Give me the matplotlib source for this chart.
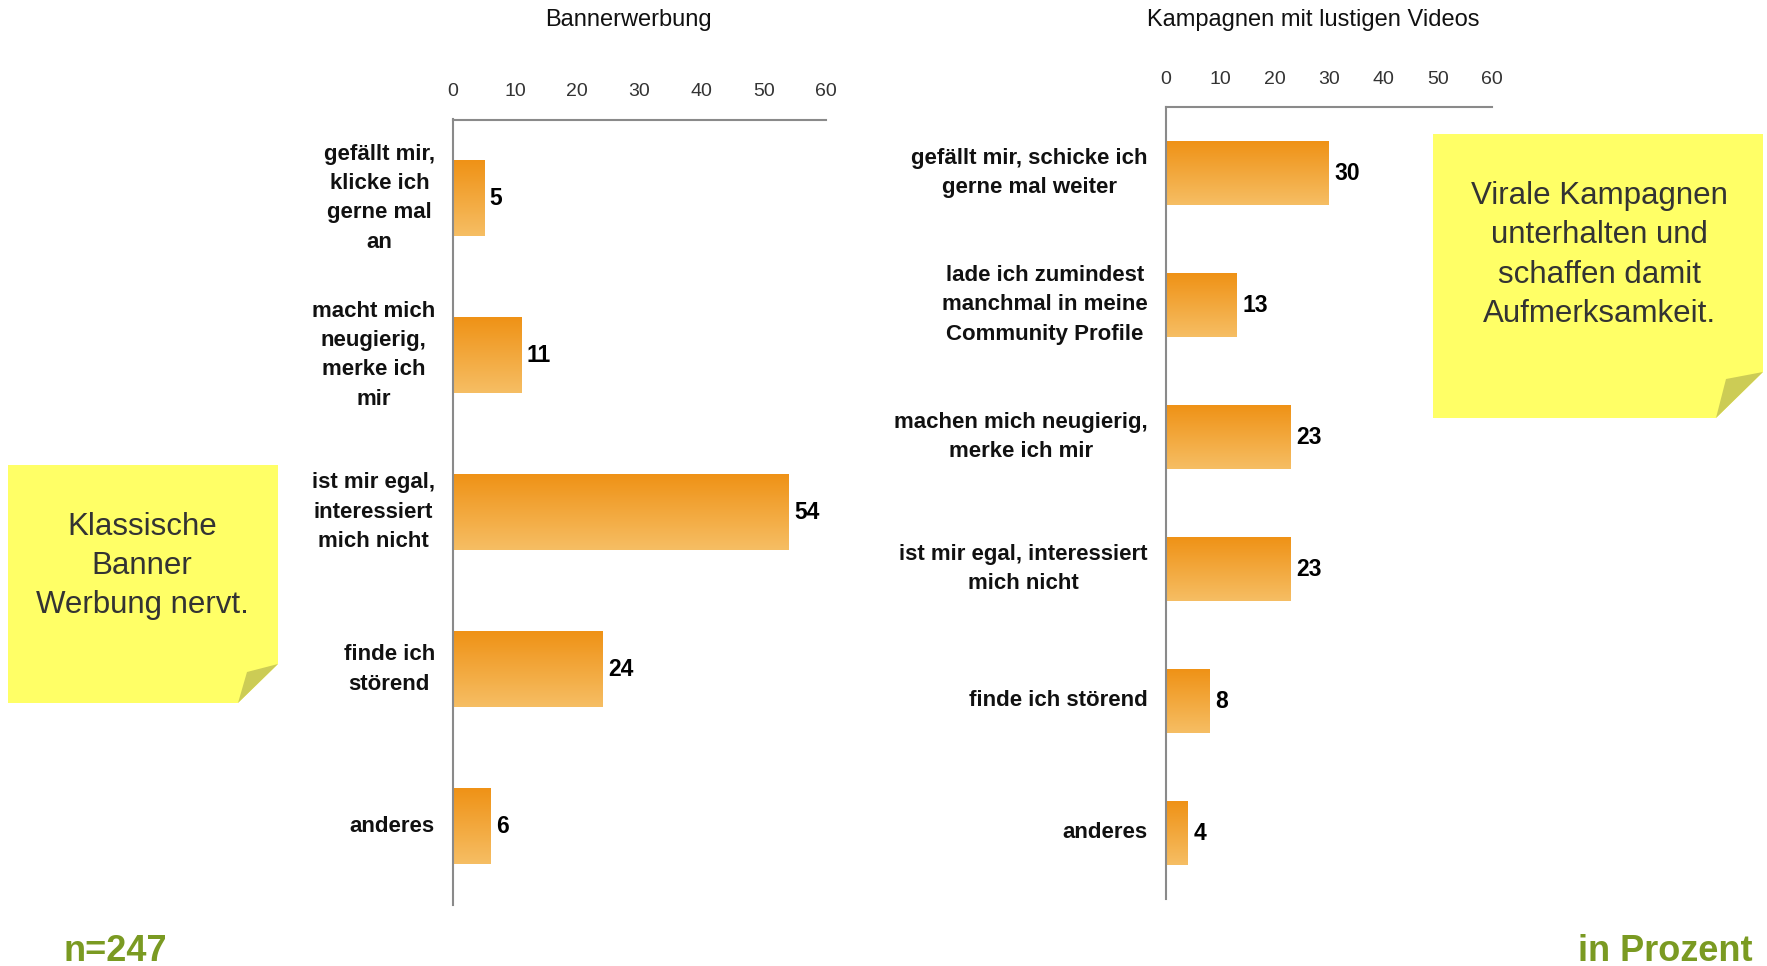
import numpy as np
import matplotlib.pyplot as plt
from matplotlib.patches import Polygon

plt.rcParams['font.family'] = ['Liberation Sans', 'DejaVu Sans']

# data
banner_labels = ["gefällt mir,\nklicke ich\ngerne mal\nan",
                 "macht mich\nneugierig,\nmerke ich\nmir",
                 "ist mir egal,\ninteressiert\nmich nicht",
                 "finde ich\nstörend",
                 "anderes"]
banner_values = [5, 11, 54, 24, 6]

video_labels = ["gefällt mir, schicke ich\ngerne mal weiter",
                "lade ich zumindest\nmanchmal in meine\nCommunity Profile",
                "machen mich neugierig,\nmerke ich mir",
                "ist mir egal, interessiert\nmich nicht",
                "finde ich störend",
                "anderes"]
video_values = [30, 13, 23, 23, 8, 4]

x_ticks = [0, 10, 20, 30, 40, 50, 60]

W, H = 1767, 966
fig = plt.figure(figsize=(W / 100, H / 100), dpi=100)

# vertical orange gradient for the bars
top_c = np.array([239, 146, 22]) / 255
bot_c = np.array([246, 190, 100]) / 255
t = np.linspace(0, 1, 256)[:, None, None]
grad = top_c + (bot_c - top_c) * t


def draw_chart(rect, labels, values):
    ax = fig.add_axes(rect)
    y = np.arange(len(values))
    bars = ax.barh(y, values, height=0.48, color='none', edgecolor='none')
    for b in bars:
        x0, y0 = b.get_x(), b.get_y()
        ax.imshow(grad, extent=(x0, x0 + b.get_width(), y0 + b.get_height(), y0),
                  aspect='auto', zorder=2)
    ax.bar_label(bars, padding=4, fontsize=16.5, fontweight='bold', color='black')
    ax.set_xlim(0, 60)
    ax.set_ylim(len(values) - 0.5, -0.5)
    ax.xaxis.tick_top()
    ax.set_xticks(x_ticks)
    ax.set_xticklabels([str(v) for v in x_ticks], fontsize=14, color='#333333')
    ax.set_yticks(y)
    ax.set_yticklabels(labels, fontsize=16, fontweight='bold', linespacing=1.52,
                       multialignment='center', color='#111111')
    for lab in ax.get_yticklabels():
        lab.set_verticalalignment('center')
    ax.tick_params(axis='x', length=0, pad=14)
    ax.tick_params(axis='y', length=0, pad=13)
    for s in ['right', 'bottom']:
        ax.spines[s].set_visible(False)
    for s in ['left', 'top']:
        ax.spines[s].set_color('#8a8a8a')
        ax.spines[s].set_linewidth(1.5)
    return ax


draw_chart([453 / W, 1 - 905 / H, 373 / W, (905 - 119.5) / H], banner_labels, banner_values)
draw_chart([1166 / W, 1 - 899 / H, 326 / W, (899 - 107) / H], video_labels, video_values)

# overlay in pixel coordinates for titles, notes and footer
ov = fig.add_axes([0, 0, 1, 1])
ov.set_xlim(0, W)
ov.set_ylim(H, 0)
ov.axis('off')

ov.text(628, 20, "Bannerwerbung", fontsize=17, ha='center', va='center', color='#111111')
ov.text(1313, 20, "Kampagnen mit lustigen Videos", fontsize=17, ha='center', va='center',
        color='#111111')

note_yellow = '#FFFF66'
fold_color = '#CCCC55'
ov.add_patch(Polygon([(8, 465), (278, 465), (278, 664), (238, 703), (8, 703)],
                     closed=True, facecolor=note_yellow, edgecolor='none'))
ov.add_patch(Polygon([(278, 664), (247, 672), (238, 703)],
                     closed=True, facecolor=fold_color, edgecolor='none'))
ov.add_patch(Polygon([(1433, 134), (1763, 134), (1763, 372), (1716, 418), (1433, 418)],
                     closed=True, facecolor=note_yellow, edgecolor='none'))
ov.add_patch(Polygon([(1763, 372), (1726, 379), (1716, 418)],
                     closed=True, facecolor=fold_color, edgecolor='none'))

ov.text(142, 566, "Klassische\nBanner\nWerbung nervt.", fontsize=22.5, ha='center',
        va='center', linespacing=1.41, color='#333333')
ov.text(1599, 255, "Virale Kampagnen\nunterhalten und\nschaffen damit\nAufmerksamkeit.",
        fontsize=22.5, ha='center', va='center', linespacing=1.4, color='#333333')

ov.text(63, 961, "n=247", fontsize=26, fontweight='bold', color='#7A9A22',
        ha='left', va='baseline')
ov.text(1753, 961, "in Prozent", fontsize=26, fontweight='bold', color='#7A9A22',
        ha='right', va='baseline')

fig.savefig('out.png', dpi=100)
